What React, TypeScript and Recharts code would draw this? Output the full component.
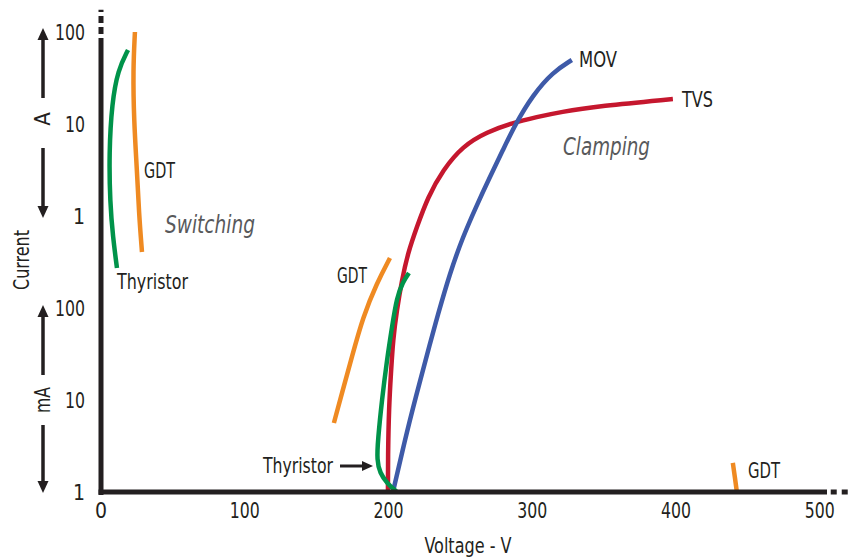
import { Line, LineChart, ReferenceLine, XAxis, YAxis } from 'recharts'

const FONT = "'Liberation Sans Narrow', 'DejaVu Sans Condensed', Roboto, sans-serif"
const INK = '#231f20'

// voltage in V, current in A
const thyristorLowV = [18.8, 11.8, 7.6, 5.6, 6.3, 8.3, 11.1]
const thyristorLowI = [63.7, 38.6, 16.9, 4.84, 1.38, 0.591, 0.272]

const gdtLowV = [23.6, 22.3, 22.9, 25.0, 26.4, 28.5]
const gdtLowI = [100, 38.6, 11.0, 3.16, 1.08, 0.406]

const gdtMidV = [201.0, 191.9, 182.2, 174.5, 167.6, 162.0]
const gdtMidI = [0.349, 0.187, 0.0798, 0.0293, 0.0119, 0.00562]

const thyristorMidV = [214.2, 210.0, 205.8, 202.4, 198.9, 195.4, 192.6, 191.9, 194.0, 198.9, 205.8]
const thyristorMidI = [0.24, 0.192, 0.132, 0.0621, 0.0272, 0.01, 0.00367, 0.00223, 0.00161, 0.00125, 0.001]

const tvsV = [199.6, 199.6, 200.3, 201.7, 203.1, 205.8, 209.3, 213.5, 219.7, 227.4, 237.8, 251.7, 268.4, 286.5, 303.2, 319.2, 347.0, 397.8]
const tvsI = [0.001, 0.0024, 0.0084, 0.0196, 0.0449, 0.0951, 0.201, 0.396, 0.759, 1.61, 3.16, 5.77, 8.19, 10.3, 11.9, 13.5, 15.7, 18.7]

const movV = [203.1, 211.4, 218.4, 229.5, 233.7, 242.7, 251.7, 260.8, 270.5, 279.6, 287.9, 300.4, 314.3, 327.5]
const movI = [0.001, 0.00367, 0.01, 0.0449, 0.0778, 0.24, 0.591, 1.25, 2.65, 5.22, 9.75, 20.7, 36.7, 49.6]

const gdtHighV = [439.5, 440.9, 442.3]
const gdtHighI = [0.00207, 0.00146, 0.001]

const voltTicks = [0, 100, 200, 300, 400, 500]
const currentTicks = [0.001, 0.01, 0.1, 1, 10, 100]

const zip = (v: number[], i: number[]) => v.map((x, k) => ({ v: x, i: i[k] }))

const formatCurrent = (value: number) =>
  value < 1 ? String(Math.round(value * 1000)) : String(value)

// squeeze the condensed fallback font to the narrow widths of the original lettering
const squeeze = (s: string, perChar = 10) =>
  s.length > 1 ? { textLength: s.length * perChar, lengthAdjust: 'spacingAndGlyphs' as const } : {}

function YTick({ x, y, payload }: any) {
  const s = formatCurrent(payload.value)
  return (
    <text x={x} y={y} dy={7.5} textAnchor="end" fontFamily={FONT} fontSize={21} fill={INK} {...squeeze(s)}>
      {s}
    </text>
  )
}

function XTick({ x, y, payload }: any) {
  const s = String(payload.value)
  return (
    <text x={x} y={y} dy={15} textAnchor="middle" fontFamily={FONT} fontSize={21} fill={INK} {...squeeze(s)}>
      {s}
    </text>
  )
}

function Arrow({ y1, y2 }: { y1: number; y2: number }) {
  // shaft from y1 to the tip at y2
  const dir = y2 > y1 ? 1 : -1
  const base = y2 - dir * 12
  return (
    <g>
      <line x1={43} y1={y1} x2={43} y2={base} stroke={INK} strokeWidth={3.5} />
      <polygon points={`43,${y2} 37.5,${base} 48.5,${base}`} fill={INK} />
    </g>
  )
}

function Note({ x, y, w, children, italic, anchor, transform }: any) {
  return (
    <text
      x={x}
      y={y}
      transform={transform}
      textAnchor={anchor}
      fontFamily={FONT}
      fontSize={italic ? 24 : 22}
      fontStyle={italic ? 'italic' : undefined}
      fill={italic ? '#58595b' : INK}
      textLength={w}
      lengthAdjust={w ? 'spacingAndGlyphs' : undefined}
    >
      {children}
    </text>
  )
}

function Annotations() {
  return (
    <svg
      width={852}
      height={559}
      style={{ position: 'absolute', left: 0, top: 0, pointerEvents: 'none' }}
    >
      <Note x={144} y={178} w={31}>GDT</Note>
      <Note x={165} y={233} w={90} italic>Switching</Note>
      <Note x={117} y={289} w={71}>Thyristor</Note>
      <Note x={337} y={283} w={30}>GDT</Note>
      <Note x={263} y={473} w={70}>Thyristor</Note>
      <line x1={340} y1={466} x2={363} y2={466} stroke={INK} strokeWidth={3} />
      <polygon points="373,466 362,461 362,471" fill={INK} />
      <Note x={579} y={67} w={38}>MOV</Note>
      <Note x={682} y={107} w={31}>TVS</Note>
      <Note x={563} y={155} w={87} italic>Clamping</Note>
      <Note x={748} y={478} w={32}>GDT</Note>
      <Note x={468} y={553} w={87} anchor="middle">Voltage - V</Note>
      <Note x={0} y={0} w={60} anchor="middle" transform="translate(29,260) rotate(-90)">Current</Note>
      <Note x={0} y={0} anchor="middle" transform="translate(50,119) rotate(-90)">A</Note>
      <Note x={0} y={0} w={26} anchor="middle" transform="translate(50,400) rotate(-90)">mA</Note>
      <Arrow y1={98} y2={28} />
      <Arrow y1={148} y2={218} />
      <Arrow y1={375} y2={305} />
      <Arrow y1={425} y2={493} />
    </svg>
  )
}

export default function App() {
  const curve = {
    type: 'basis' as const,
    dataKey: 'i',
    dot: false,
    strokeWidth: 4.5,
    isAnimationActive: false,
  }
  return (
    <div style={{ position: 'absolute', left: 0, top: 0, width: 852, height: 559, background: '#fff' }}>
      <LineChart width={852} height={559} margin={{ top: 32, right: 25, bottom: 0, left: 0 }}>
        <XAxis
          type="number"
          dataKey="v"
          domain={[0, 505]}
          ticks={voltTicks}
          axisLine={false}
          tickLine={false}
          tickSize={0}
          tickMargin={11}
          height={67}
          tick={<XTick />}
        />
        <YAxis
          type="number"
          scale="log"
          domain={[0.001, 100]}
          ticks={currentTicks}
          axisLine={false}
          tickLine={false}
          tickSize={0}
          tickMargin={16}
          width={101}
          tick={<YTick />}
        />
        <Line {...curve} data={zip(tvsV, tvsI)} stroke="#c5172e" />
        <Line {...curve} data={zip(movV, movI)} stroke="#3e5aa8" />
        <Line {...curve} data={zip(thyristorMidV, thyristorMidI)} stroke="#00934a" />
        <Line {...curve} data={zip(thyristorLowV, thyristorLowI)} stroke="#00934a" />
        <Line {...curve} data={zip(gdtMidV, gdtMidI)} stroke="#ef8a22" />
        <Line {...curve} data={zip(gdtLowV, gdtLowI)} stroke="#ef8a22" />
        <Line {...curve} data={zip(gdtHighV, gdtHighI)} stroke="#ef8a22" />
        <ReferenceLine
          segment={[{ x: 0, y: 0.00093 }, { x: 0, y: 86 }]}
          stroke={INK}
          strokeWidth={5}
          ifOverflow="visible"
        />
        <ReferenceLine
          segment={[{ x: 0, y: 95 }, { x: 0, y: 175 }]}
          stroke={INK}
          strokeWidth={5}
          strokeDasharray="7 4"
          ifOverflow="visible"
        />
        <ReferenceLine
          segment={[{ x: -1.7, y: 0.001 }, { x: 505, y: 0.001 }]}
          stroke={INK}
          strokeWidth={5}
          ifOverflow="visible"
        />
        <ReferenceLine
          segment={[{ x: 507.6, y: 0.001 }, { x: 519.5, y: 0.001 }]}
          stroke={INK}
          strokeWidth={5}
          strokeDasharray="6 5"
          ifOverflow="visible"
        />
      </LineChart>
      <Annotations />
    </div>
  )
}
